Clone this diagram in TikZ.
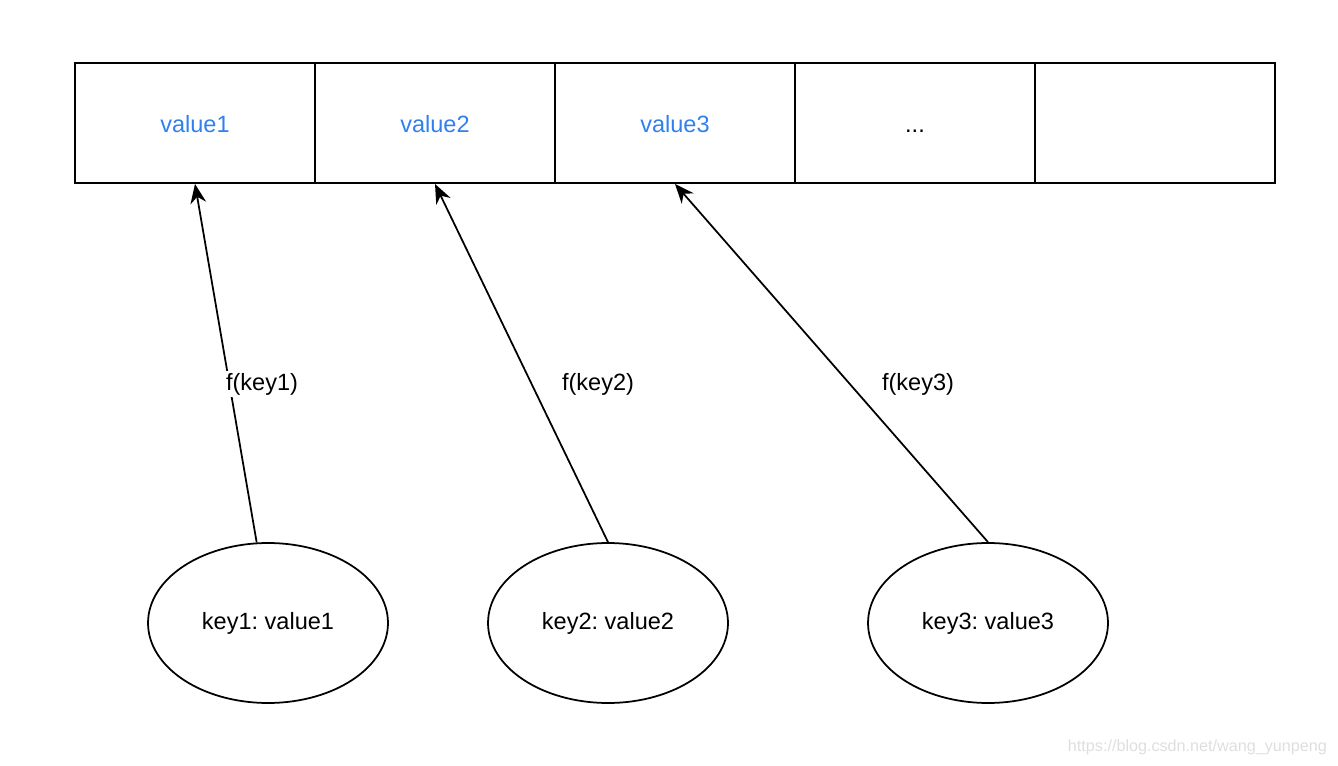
\documentclass[tikz,border=0pt]{standalone}
\usepackage{fontspec}
\setmainfont{Liberation Sans}
\usetikzlibrary{shapes.geometric,arrows.meta}
\tikzset{>={Stealth[length=11pt,width=9pt]}}
\definecolor{valblue}{RGB}{48,128,240}
\definecolor{markgray}{RGB}{222,222,222}
\frenchspacing

\begin{document}
\begin{tikzpicture}[x=0.02cm,y=-0.02cm,
    cell/.style={draw,line width=1.1pt,minimum width=4.8cm,minimum height=2.4cm,inner sep=0pt,
      text height=1.1em,text depth=0pt},
    pair/.style={draw,line width=1pt,ellipse,minimum width=4.8cm,minimum height=3.2cm,inner sep=0pt},
    hashfn/.style={fill=white,inner sep=1pt},
    txt/.style={font=\fontsize{13.4}{16}\selectfont}]
  \useasboundingbox (0,0) rectangle (1338,766);
  % the table
  \node[cell,txt,text=valblue] (c1) at (195,123) {value1};
  \node[cell,txt,text=valblue] (c2) at (435,123) {value2};
  \node[cell,txt,text=valblue] (c3) at (675,123) {value3};
  \node[cell,txt] (c4) at (915,123) {...};
  \node[cell] (c5) at (1155,123) {};
  % the entries
  \node[pair,txt] (k1) at (268,623) {key1: value1};
  \node[pair,txt] (k2) at (608,623) {key2: value2};
  \node[pair,txt] (k3) at (988,623) {key3: value3};
  \draw[->,line width=1pt] (k1.98) -- (c1.south);
  \draw[->,line width=1pt] (k2.north) -- (c2.south);
  \draw[->,line width=1pt] (k3.north) -- (c3.south);
  \node[txt,hashfn] (f1) at (262,384) {f(key1)};
  \node[txt,hashfn] (f2) at (598,384) {f(key2)};
  \node[txt,hashfn] (f3) at (918,384) {f(key3)};
  \node[anchor=east,text=markgray,font=\fontsize{9.2}{11}\selectfont] (mark) at (1333,747) {https://blog.csdn.net/wang\_yunpeng};
\end{tikzpicture}
\end{document}
